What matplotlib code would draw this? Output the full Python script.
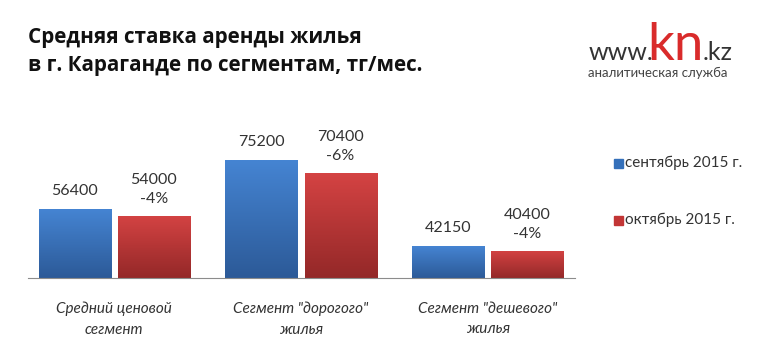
import numpy as np
from matplotlib import pyplot as plt
from matplotlib.colors import LinearSegmentedColormap

categories = ['Средний ценовой\nсегмент', 'Сегмент "дорогого"\nжилья', 'Сегмент "дешевого"\nжилья']
series_names = ['сентябрь 2015 г.', 'октябрь 2015 г.']
sep_values = [56400, 75200, 42150]
oct_values = [54000, 70400, 40400]
oct_change = ['-4%', '-6%', '-4%']

title = 'Средняя ставка аренды жилья\nв г. Караганде по сегментам, тг/мес.'

plt.rcParams['font.family'] = ['Lato', 'DejaVu Sans']

fig = plt.figure(figsize=(7.68, 3.6), dpi=100)
ax = fig.add_axes([0.036, 0.228, 0.713, 0.433])

blue_cmap = LinearSegmentedColormap.from_list('b', ['#2C5A98', '#4584D2'])
red_cmap = LinearSegmentedColormap.from_list('r', ['#942828', '#D44343'])
ymin, ymax = 30000, 90000


def _gradient_bars(ax, xs, vals, width, cmap):
    grad = np.linspace(0, 1, 100).reshape(-1, 1)
    bars = ax.bar(xs, vals, width, bottom=0, color='none', edgecolor='none')
    for b in bars:
        x0 = b.get_x()
        h = b.get_height()
        im = ax.imshow(grad, extent=[x0, x0 + width, ymin, h], origin='lower',
                       cmap=cmap, aspect='auto', zorder=2)
        im.set_clip_path(b)
    return bars


x = np.arange(len(categories))
w = 0.386
gap = 0.019
_gradient_bars(ax, x - w / 2 - gap, sep_values, w, blue_cmap)
_gradient_bars(ax, x + w / 2 + gap, oct_values, w, red_cmap)

for xi, v in zip(x - w / 2 - gap, sep_values):
    ax.text(xi, v + 4300, f'{v}', ha='center', va='bottom', fontsize=11.5, color='#333333')
for xi, v, c in zip(x + w / 2 + gap, oct_values, oct_change):
    ax.text(xi, v + 3800, f'{v}\n{c}', ha='center', va='bottom', fontsize=11.5,
            color='#333333', linespacing=1.45)

ax.set_xlim(-0.464, 2.469)
ax.set_ylim(ymin, ymax)
ax.set_xticks(x)
ax.set_xticklabels(categories, fontsize=11, style='italic', color='#333333', linespacing=1.6)
ax.tick_params(axis='x', length=0, pad=17)
ax.set_yticks([])
for s in ['top', 'right', 'left']:
    ax.spines[s].set_visible(False)
ax.spines['bottom'].set_color('#8C8C8C')

# legend
lx = 0.8
for i, (name, col) in enumerate(zip(series_names, ['#3470BA', '#C23535'])):
    yy = 1 - (163 + 57 * i) / 360
    fig.patches.append(plt.Rectangle((lx, yy - 0.013), 0.011, 0.025, color=col,
                                     transform=fig.transFigure, figure=fig))
    fig.text(lx + 0.014, yy, name, fontsize=11, va='center', color='#333333')

# title
lines = title.split('\n')
fig.text(0.036, 1 - 37 / 360, lines[0], fontsize=14.9, fontweight='bold',
         family=['Open Sans', 'DejaVu Sans'], va='center', color='#111111')
fig.text(0.036, 1 - 65 / 360, lines[1], fontsize=14.9, fontweight='bold',
         family=['Open Sans', 'DejaVu Sans'], va='center', color='#111111')

# logo
base = 1 - 60 / 360
fig.text(0.766, base, 'www.', fontsize=18, color='#333333', va='baseline')
fig.text(0.843, base, 'kn', fontsize=38, color='#D92B2B', va='baseline')
fig.text(0.915, base, '.kz', fontsize=18, color='#333333', va='baseline')
fig.text(0.766, 1 - 77 / 360, 'аналитическая служба', fontsize=9.5, color='#444444',
         va='baseline')

fig.savefig('out.png', dpi=100)
